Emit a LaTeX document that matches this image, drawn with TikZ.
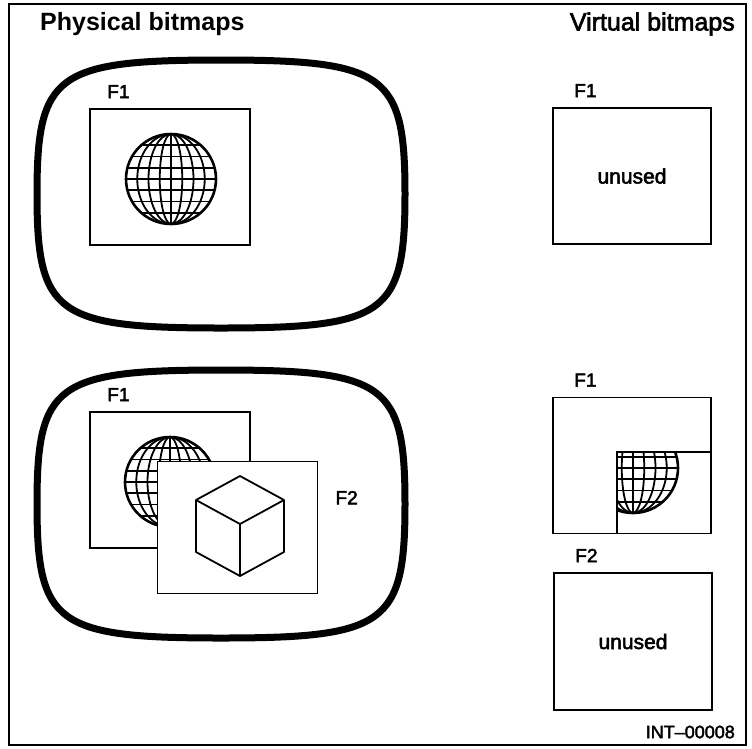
\documentclass[tikz,border=0pt]{standalone}
\usepackage{fontspec}
\setmainfont{Liberation Sans}
\newfontfamily\medsans{Liberation Sans}[FakeBold=2.5]
\usetikzlibrary{positioning}

\begin{document}
\begin{tikzpicture}[
  x=1pt, y=-1pt,
  font=\medsans\fontsize{19}{22}\selectfont,
  win/.style={draw, line width=1.7pt, fill=white, inner sep=0pt,
    minimum width=160pt, minimum height=136pt},
  tag/.style={inner sep=0pt, anchor=base west},
  head/.style={font=\fontsize{25}{28}\selectfont\bfseries, inner sep=0pt},
  screen/.style={line width=7pt, line join=round},
  grid/.style={line width=1.8pt},
  % rounded display tube, sides slightly bowed
  crt/.pic={
    \draw[screen] (0,-134) .. controls (165,-134) and (184,-120) .. (184,0)
      .. controls (184,120) and (165,134) .. (0,134)
      .. controls (-165,134) and (-184,120) .. (-184,0)
      .. controls (-184,-120) and (-165,-134) .. (0,-134) -- cycle;
  },
  % wire globe, 8x8 grid
  globe/.pic={
    \draw[grid] (0,-45) -- (0,45);
    \foreach \k in {0.25,0.5,0.75}
      \draw[grid] (0,0) ellipse[x radius=\k*45, y radius=45];
    \foreach \k in {-0.75,-0.5,-0.25,0,0.25,0.5,0.75}
      \draw[grid] ({-45*sqrt(1-\k*\k)},\k*45) -- ({45*sqrt(1-\k*\k)},\k*45);
    \draw[grid, line width=2.6pt] (0,0) circle[radius=45];
  },
  cube/.pic={
    \draw[line width=1.8pt, line join=round]
      (0,-50) -- (44,-26) -- (44,26) -- (0,50) -- (-44,26) -- (-44,-26) -- cycle
      (-44,-26) -- (0,-2) -- (44,-26)
      (0,-2) -- (0,50);
  }
]
  \useasboundingbox (0,0) rectangle (752,748);
  \draw[line width=1.1pt] (9,4) rectangle (746,745);

  \node[head, anchor=west] (hphys) at (40,24) {Physical bitmaps};
  \node[head, anchor=east, font=\medsans\fontsize{25}{28}\selectfont] (hvirt) at (735,24) {Virtual bitmaps};

  % physical: one window
  \pic at (221,194) {crt};
  \node[win] (physa) at (170,177) {};
  \pic at (171,179) {globe};
  \node[tag] (lphysa) at ([xshift=18pt, yshift=10pt]physa.north west) {F1};

  % physical: F2 on top of F1
  \pic at (221,504) {crt};
  \node[win] (physb) at (170,480) {};
  \pic at (170,482) {globe};
  \node[win, minimum height=132pt] (physc) at (237.5,527.5) {};
  \pic at (240,526) {cube};
  \node[tag] (lphysb) at ([xshift=18pt, yshift=10pt]physb.north west) {F1};
  \node[tag, anchor=west] (lphysc) at ([xshift=17pt, yshift=-37pt]physc.north east) {F2};

  % virtual copies
  \node[win, minimum width=158pt, font=\medsans\fontsize{21}{24}\selectfont] (virta) at (632,176) {unused};
  \node[tag] (lvirta) at ([xshift=22pt, yshift=10pt]virta.north west) {F1};

  \node[win, minimum width=158pt] (virtb) at (632,465.5) {};
  \begin{scope}
    \clip (617,452) rectangle (711,533);
    \pic at (633,468) {globe};
  \end{scope}
  \draw[line width=1.7pt] (617,533) -- (617,452) -- (711,452);
  \node[tag] (lvirtb) at ([xshift=22pt, yshift=10pt]virtb.north west) {F1};

  \node[win, minimum width=158pt, minimum height=137pt, font=\medsans\fontsize{21}{24}\selectfont] (virtc) at (633,641.5) {unused};
  \node[tag] (lvirtc) at ([xshift=22pt, yshift=10pt]virtc.north west) {F2};

  \node[tag, anchor=east, font=\medsans\fontsize{18}{20}\selectfont] (docid) at (735,732) {INT\textendash 00008};
\end{tikzpicture}
\end{document}
